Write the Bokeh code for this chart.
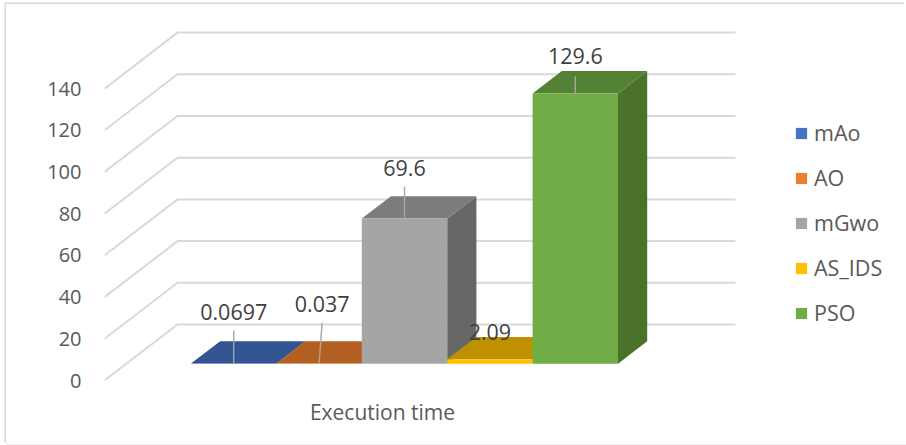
from bokeh.embed import file_html
from bokeh.resources import INLINE
from bokeh.plotting import figure
from bokeh.models import ColumnDataSource, FixedTicker, Legend, LegendItem
from bokeh.core.properties import value

# Chart data
series = ["mAo", "AO", "mGwo", "AS_IDS", "PSO"]
times = [0.0697, 0.037, 69.6, 2.09, 129.6]
value_labels = ["0.0697", "0.037", "69.6", "2.09", "129.6"]
y_ticks = [0, 20, 40, 60, 80, 100, 120, 140]
category = "Execution time"

# Face colours of each 3-D column
front_colors = ["#4472C4", "#ED7D31", "#A5A5A5", "#FFC000", "#70AD47"]
top_colors = ["#335593", "#B45F22", "#7C7C7C", "#BF9000", "#548235"]
side_colors = ["#2A4678", "#8F4A1A", "#676767", "#9A7400", "#4A7229"]

# Canvas layout and oblique projection; the chart area sits inside a thin page frame
PAGE_W, PAGE_H = 906, 445
OX, OY = 6, 4
W, H = PAGE_W - OX, PAGE_H - OY - 1
LEFT, BOTTOM = 104 - OX, 57
PX_X = 85.4            # pixels per column
PX_Y = 2.085           # pixels per value unit
BAR_NEAR, BAR_FAR = 0.30, 0.70
DEPTH_PX_X, DEPTH_PX_Y = 73, 56
ZERO_X, ZERO_Y = 190.5 - OX - BAR_NEAR * DEPTH_PX_X, 380 - OY
DEPTH_X = DEPTH_PX_X / PX_X    # full floor depth in data units
DEPTH_Y = DEPTH_PX_Y / PX_Y


def project(x, v, depth):
    return x + depth * DEPTH_X, v + depth * DEPTH_Y


p = figure(
    width=W, height=H, output_backend="svg", toolbar_location=None,
    x_range=((LEFT - ZERO_X) / PX_X, (W - ZERO_X) / PX_X),
    y_range=((ZERO_Y - (H - BOTTOM)) / PX_Y, ZERO_Y / PX_Y),
    min_border_left=LEFT, min_border_right=0, min_border_top=0,
    min_border_bottom=BOTTOM, background_fill_color="white",
    border_fill_color="white", outline_line_color=None,
    margin=(OY, 0, 0, OX),
    styles={"box-shadow": "-1.5px -1.5px 0 0 #D9D9D9, 0 1px 0 0 #EFEFEF"},
)
p.grid.visible = False

# Y axis labels
yax = p.yaxis[0]
yax.ticker = FixedTicker(ticks=y_ticks)
yax.axis_line_color = None
yax.major_tick_line_color = None
yax.minor_tick_line_color = None
yax.major_label_standoff = 17
yax.major_label_text_font = "Open Sans"
yax.major_label_text_font_size = "20px"
yax.major_label_text_color = "#595959"

# Category label under the floor
xax = p.xaxis[0]
cat_x = (382 - OX - ZERO_X) / PX_X
xax.ticker = FixedTicker(ticks=[cat_x])
xax.major_label_overrides = {cat_x: category}
xax.axis_line_color = None
xax.major_tick_line_color = None
xax.minor_tick_line_color = None
xax.major_label_standoff = 4
xax.major_label_text_font = "Open Sans"
xax.major_label_text_font_size = "21px"
xax.major_label_text_color = "#595959"

# Gridlines: along the side wall, then across the back wall
wall_end = (735 - OX - ZERO_X) / PX_X
x0 = (LEFT - ZERO_X) / PX_X
grid_xs, grid_ys = [], []
for t in y_ticks:
    bx, by = project(x0, t, 1.0)
    grid_xs.append([x0, bx, wall_end])
    grid_ys.append([t, by, by])
p.multi_line(grid_xs, grid_ys, line_color="#D9D9D9", line_width=2)

# Columns, left to right so each one overlaps its neighbour's side face
fronts = []
for i, v in enumerate(times):
    ax, ay = project(i, 0, BAR_NEAR)
    bx, by = project(i + 1, 0, BAR_NEAR)
    tx, ty = project(i, v, BAR_NEAR)
    ux, uy = project(i + 1, v, BAR_NEAR)
    rx, ry = project(i + 1, 0, BAR_FAR)
    sx, sy = project(i + 1, v, BAR_FAR)
    lx, ly = project(i, v, BAR_FAR)
    p.patch([bx, rx, sx, ux], [by, ry, sy, uy], fill_color=side_colors[i], line_color=None)
    p.patch([tx, ux, sx, lx], [ty, uy, sy, ly], fill_color=top_colors[i], line_color=None)
    fronts.append(p.patch([ax, bx, ux, tx], [ay, by, uy, ty],
                          fill_color=front_colors[i], line_color=None))

# Value labels with their leader lines
cx = [i + 0.5 + BAR_NEAR * DEPTH_X for i in range(len(times))]
base = [v + BAR_NEAR * DEPTH_Y for v in times]
label_offset = [52, 60, 51, 27, 37]
leader_lengths = [33, 41, 32, 0, 17]
leader_shift = [0, 3, 0, 0, 0]
leader_xs = [[c, c + s / PX_X] for c, s in zip(cx, leader_shift)]
leader_ys = [[b, b + n / PX_Y] for b, n in zip(base, leader_lengths)]
keep = [i for i, n in enumerate(leader_lengths) if n]
p.multi_line([leader_xs[i] for i in keep], [leader_ys[i] for i in keep],
             line_color="#A6A6A6", line_width=1.4)

labels = ColumnDataSource(dict(
    x=[c + s / PX_X for c, s in zip(cx, leader_shift)],
    y=[b + o / PX_Y for b, o in zip(base, label_offset)],
    text=value_labels,
))
p.text("x", "y", text="text", source=labels, text_align="center",
       text_baseline="alphabetic", text_font=value("Open Sans"),
       text_font_size="21.5px", text_color="#404040")

# Legend
legend = Legend(
    items=[LegendItem(label=s, renderers=[r]) for s, r in zip(series, fronts)],
    location=(690, 60),
    orientation="vertical", spacing=16, padding=6, margin=0,
    glyph_width=14, glyph_height=14, label_standoff=6, label_height=24,
    label_text_font="Open Sans", label_text_font_size="21.5px",
    label_text_color="#595959", background_fill_alpha=0, border_line_color=None,
)
p.add_layout(legend)

open("out.html", "w").write(file_html(p, INLINE))
